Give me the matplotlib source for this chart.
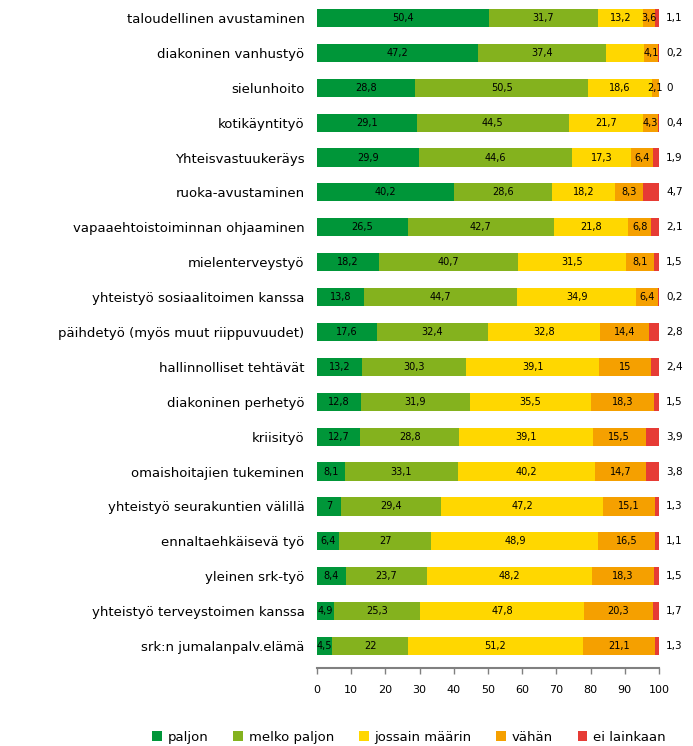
import numpy as np
import matplotlib
matplotlib.use("Agg")
import matplotlib.pyplot as plt
from matplotlib.patches import Patch

plt.rcParams['font.family'] = ['DejaVu Sans']

# -----------------------------
# DATA
# -----------------------------
categories = [
    "taloudellinen avustaminen", "diakoninen vanhustyö", "sielunhoito",
    "kotikäyntityö", "Yhteisvastuukeräys", "ruoka-avustaminen",
    "vapaaehtoistoiminnan ohjaaminen", "mielenterveystyö",
    "yhteistyö sosiaalitoimen kanssa", "päihdetyö (myös muut riippuvuudet)",
    "hallinnolliset tehtävät", "diakoninen perhetyö", "kriisityö",
    "omaishoitajien tukeminen", "yhteistyö seurakuntien välillä",
    "ennaltaehkäisevä työ", "yleinen srk-työ",
    "yhteistyö terveystoimen kanssa", "srk:n jumalanpalv.elämä",
]
paljon = [50.4, 47.2, 28.8, 29.1, 29.9, 40.2, 26.5, 18.2, 13.8, 17.6,
          13.2, 12.8, 12.7, 8.1, 7, 6.4, 8.4, 4.9, 4.5]
melko_paljon = [31.7, 37.4, 50.5, 44.5, 44.6, 28.6, 42.7, 40.7, 44.7, 32.4,
                30.3, 31.9, 28.8, 33.1, 29.4, 27, 23.7, 25.3, 22]
jossain = [13.2, 11.1, 18.6, 21.7, 17.3, 18.2, 21.8, 31.5, 34.9, 32.8,
           39.1, 35.5, 39.1, 40.2, 47.2, 48.9, 48.2, 47.8, 51.2]
vahan = [3.6, 4.1, 2.1, 4.3, 6.4, 8.3, 6.8, 8.1, 6.4, 14.4,
         15, 18.3, 15.5, 14.7, 15.1, 16.5, 18.3, 20.3, 21.1]
ei_lainkaan = [1.1, 0.2, 0, 0.4, 1.9, 4.7, 2.1, 1.5, 0.2, 2.8,
               2.4, 1.5, 3.9, 3.8, 1.3, 1.1, 1.5, 1.7, 1.3]

series_names = ["paljon", "melko paljon", "jossain määrin", "vähän", "ei lainkaan"]
colors = ["#009639", "#84B21E", "#FFD700", "#F5A000", "#E63B35"]
# labels the original chart leaves out (row, series)
hidden_labels = {(1, 2)}

ticks = list(range(0, 101, 10))


def fmt(v):
    return f"{v:g}".replace(".", ",")


# -----------------------------
# PLOT
# -----------------------------
fig = plt.figure(figsize=(6.93, 7.46), dpi=100)
ax = fig.add_axes([317 / 693, 1 - 668 / 746, (659 - 317) / 693, 667.5 / 746])

data = [paljon, melko_paljon, jossain, vahan, ei_lainkaan]
y = np.arange(len(categories))
left = np.zeros(len(categories))

for s, (vals, col) in enumerate(zip(data, colors)):
    vals = np.array(vals, dtype=float)
    ax.barh(y, vals, left=left, height=0.52, color=col, edgecolor="none")
    for i, v in enumerate(vals):
        if s == 4:
            # last series is written to the right of the bar
            ax.annotate(fmt(v), (100, y[i]), xytext=(5, 0), textcoords="offset points",
                        ha="left", va="center", fontsize=7.5, color="black")
        elif (i, s) not in hidden_labels:
            ax.text(left[i] + v / 2, y[i], fmt(v), ha="center", va="center",
                    fontsize=7, color="black")
    left += vals

ax.set_ylim(18.63, -0.5)
ax.set_xlim(0, 100)
ax.set_yticks(y)
ax.set_yticklabels(categories, fontsize=9.5)
ax.tick_params(axis="y", length=0, pad=9)
ax.set_xticks(ticks)
ax.set_xticklabels([str(t) for t in ticks], fontsize=8)
ax.tick_params(axis="x", direction="out", length=4, color="#808080", width=1, pad=8)

for side in ["left", "right", "top"]:
    ax.spines[side].set_visible(False)
ax.spines["bottom"].set_color("#808080")
ax.spines["bottom"].set_linewidth(1.5)

handles = [Patch(facecolor=c, edgecolor="none") for c in colors]
fig.legend(handles, series_names, loc="center", bbox_to_anchor=(0.59, 0.012),
           ncol=5, frameon=False, fontsize=9.5, handlelength=0.75, handleheight=0.75,
           handletextpad=0.4, columnspacing=1.9)

fig.savefig("out.png", dpi=100)
